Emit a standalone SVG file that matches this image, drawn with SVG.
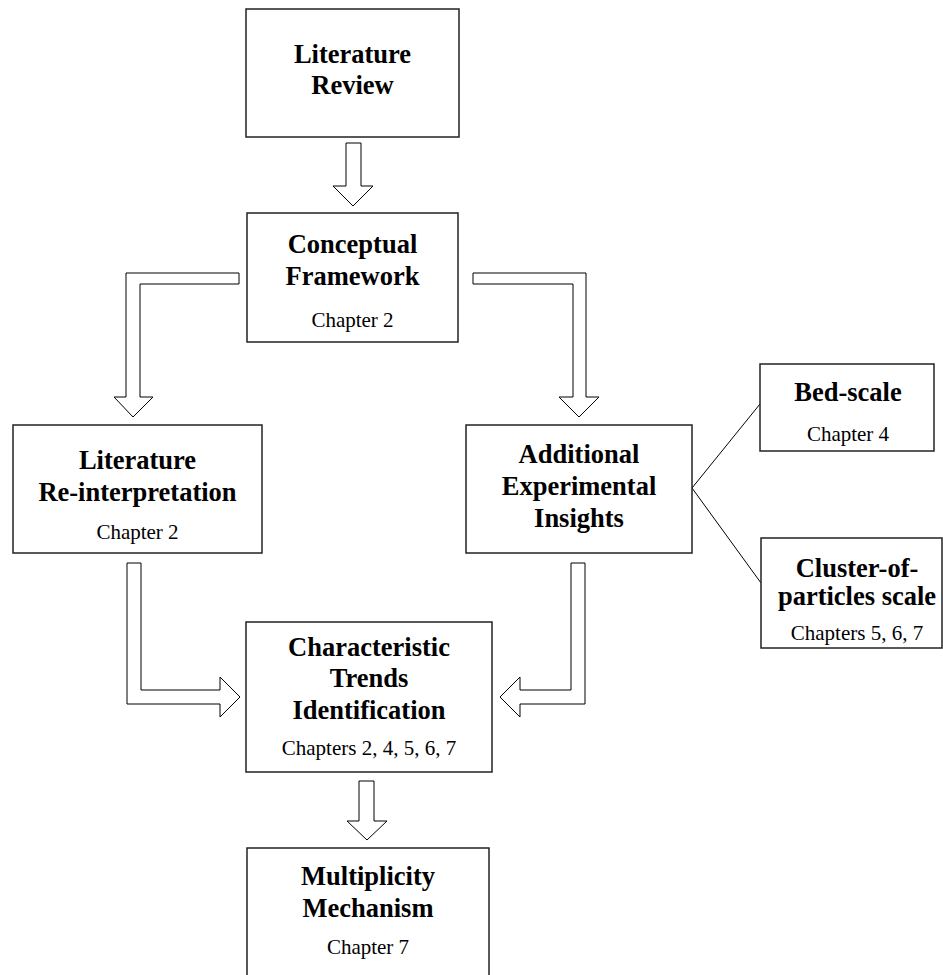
<svg xmlns="http://www.w3.org/2000/svg" width="943" height="975" viewBox="0 0 943 975">
<style>
.box{fill:#fff;stroke:#222;stroke-width:1.5}
.arr{fill:#fff;stroke:#000;stroke-width:1}
.ln{fill:none;stroke:#000;stroke-width:1}
.t{font-family:"Liberation Serif","Times New Roman",serif;font-weight:bold;font-size:26.5px;text-anchor:middle;fill:#000}
.s{font-family:"Liberation Serif","Times New Roman",serif;font-size:21px;text-anchor:middle;fill:#000}
</style>
<rect width="943" height="975" fill="#fff"/>
<g id="connectors">
<polygon class="arr" points="346,143 361,143 361,186 373,186 353,206 333,186 346,186"/>
<polygon class="arr" points="239,273 239,284 140,284 140,397 153,397 133,417 114,397 126,397 126,273"/>
<polygon class="arr" points="473,273 586,273 586,397 599,397 579,417 559,397 573,397 573,284 473,284"/>
<polygon class="arr" points="127,563 141,563 141,690 220,690 220,677 240,697 220,717 220,704 127,704"/>
<polygon class="arr" points="585,563 571,563 571,690 520,690 520,677 500,697 520,717 520,704 585,704"/>
<polygon class="arr" points="359,781 374,781 374,821 387,821 367,840 347,821 359,821"/>
<line class="ln" x1="692" y1="488" x2="760" y2="404"/>
<line class="ln" x1="692" y1="488" x2="761" y2="583"/>
</g>
<g id="literature-review">
<rect class="box" x="246" y="9" width="213" height="128"/>
<text class="t" x="352.5" y="63">Literature</text>
<text class="t" x="352.5" y="94">Review</text>
</g>
<g id="conceptual-framework">
<rect class="box" x="247" y="213" width="211" height="129"/>
<text class="t" x="352.5" y="253">Conceptual</text>
<text class="t" x="352.5" y="285">Framework</text>
<text class="s" x="352.5" y="327">Chapter 2</text>
</g>
<g id="literature-reinterpretation">
<rect class="box" x="13" y="425" width="249" height="128"/>
<text class="t" x="137.5" y="469">Literature</text>
<text class="t" x="137.5" y="501">Re-interpretation</text>
<text class="s" x="137.5" y="539">Chapter 2</text>
</g>
<g id="additional-experimental-insights">
<rect class="box" x="466" y="425" width="226" height="128"/>
<text class="t" x="579" y="463">Additional</text>
<text class="t" x="579" y="495">Experimental</text>
<text class="t" x="579" y="527">Insights</text>
</g>
<g id="bed-scale">
<rect class="box" x="760" y="364" width="174" height="87"/>
<text class="t" x="848" y="401">Bed-scale</text>
<text class="s" x="848" y="441">Chapter 4</text>
</g>
<g id="cluster-of-particles-scale">
<rect class="box" x="761" y="538" width="181" height="110"/>
<text class="t" x="857" y="577">Cluster-of-</text>
<text class="t" x="857" y="605">particles scale</text>
<text class="s" x="857" y="640">Chapters 5, 6, 7</text>
</g>
<g id="characteristic-trends-identification">
<rect class="box" x="246" y="622" width="246" height="150"/>
<text class="t" x="369" y="656">Characteristic</text>
<text class="t" x="369" y="687">Trends</text>
<text class="t" x="369" y="719">Identification</text>
<text class="s" x="369" y="755">Chapters 2, 4, 5, 6, 7</text>
</g>
<g id="multiplicity-mechanism">
<rect class="box" x="247" y="848" width="242" height="140"/>
<text class="t" x="368" y="885">Multiplicity</text>
<text class="t" x="368" y="917">Mechanism</text>
<text class="s" x="368" y="954">Chapter 7</text>
</g>
</svg>
